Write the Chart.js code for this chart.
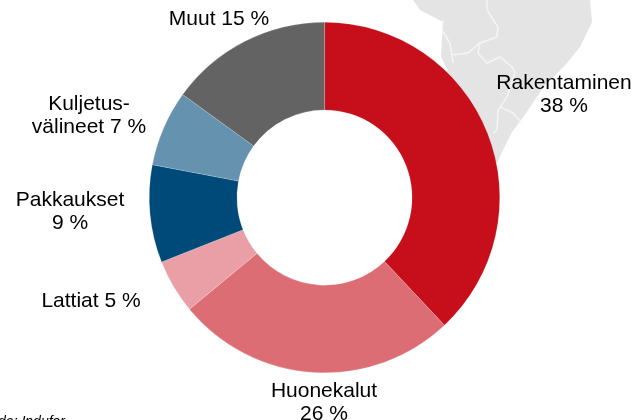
<!DOCTYPE html>
<html>
<head>
<meta charset="utf-8">
<style>
html, body { margin: 0; padding: 0; background: #fff; overflow: hidden; }
#wrap { width: 633px; height: 420px; position: relative; }
</style>
<script src="https://cdn.jsdelivr.net/npm/chart.js@4"></script>
</head>
<body>
<div id="wrap"><canvas id="myChart" width="633" height="420"></canvas></div>
<script>
var categories = ["Rakentaminen", "Huonekalut", "Lattiat", "Pakkaukset", "Kuljetus-välineet", "Muut"];
var shares = [38, 26, 5, 9, 7, 15];
var colors = ["#c60f1a", "#dd6d75", "#e99fa5", "#004a79", "#6593af", "#636363"];
var sliceLabels = [["Rakentaminen", "38 %"], ["Huonekalut", "26 %"], ["Lattiat 5 %"], ["Pakkaukset", "9 %"], ["Kuljetus-", "välineet 7 %"], ["Muut 15 %"]];
var source = "Lähde: Indufor";

// where each label sits, x centre and y of the first line
var labelPos = [[564, 82], [324, 390], [91, 300], [70, 199], [89, 103], [219, 18]];

// grey map behind the chart, part of it is hidden by the doughnut
var mapOutline = [[413,0],[420,10],[443,22],[441,57],[448,70],[400,100],[440,190],[498,162],[502,152],[512,132],[524,116],[543,88],[567,63],[580,47],[592,22],[590,0]];
var mapBorders = [
    [[443,20],[442,30],[450,43],[453,63]],
    [[487,10],[498,27],[497,37],[480,43],[468,53],[452,55]],
    [[480,43],[478,53],[487,63],[500,57],[512,67],[515,72]],
    [[515,72],[507,97],[498,110],[497,130],[493,133]],
    [[500,107],[513,113],[522,123]],
    [[487,0],[487,10]]
];

var background = {
    id: "background",
    beforeDatasetsDraw: function(chart) {
        var c = chart.ctx;
        c.save();
        c.beginPath();
        mapOutline.forEach(function(p, i) {
            if (i == 0) c.moveTo(p[0], p[1]); else c.lineTo(p[0], p[1]);
        });
        c.closePath();
        c.fillStyle = "#e4e4e4";
        c.fill();
        c.strokeStyle = "#f5f5f5";
        c.lineWidth = 1.5;
        mapBorders.forEach(function(line) {
            c.beginPath();
            line.forEach(function(p, i) {
                if (i == 0) c.moveTo(p[0], p[1]); else c.lineTo(p[0], p[1]);
            });
            c.stroke();
        });
        c.restore();
    }
};

var texts = {
    id: "texts",
    afterDraw: function(chart) {
        var c = chart.ctx;
        c.save();
        c.fillStyle = "#000";
        c.font = "21px 'Liberation Sans'";
        c.textAlign = "center";
        c.textBaseline = "middle";
        sliceLabels.forEach(function(lines, i) {
            lines.forEach(function(t, j) {
                c.fillText(t, labelPos[i][0], labelPos[i][1] + 1 + j * 23);
            });
        });
        c.font = "italic 14px 'Liberation Sans'";
        c.textAlign = "right";
        c.textBaseline = "alphabetic";
        c.fillText(source, 65, 426);
        c.restore();
    }
};

var ctx = document.getElementById("myChart").getContext("2d");
var myChart = new Chart(ctx, {
    type: "doughnut",
    data: {
        labels: categories,
        datasets: [{
            data: shares,
            backgroundColor: colors,
            borderColor: "rgba(255,255,255,0.35)",
            borderWidth: 0.5
        }]
    },
    options: {
        responsive: false,
        animation: false,
        cutout: "50%",
        layout: { padding: { left: 149, right: 133, top: 22, bottom: 47 } },
        plugins: {
            legend: { display: false },
            tooltip: { enabled: false }
        }
    },
    plugins: [background, texts]
});
</script>
</body>
</html>
